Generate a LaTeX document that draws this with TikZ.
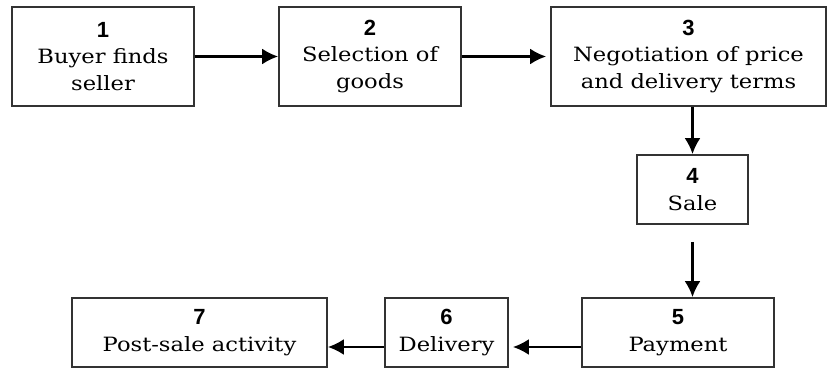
\documentclass[tikz,border=0pt]{standalone}
\usepackage{fontspec}
\setmainfont[FakeStretch=1.15]{DejaVu Serif}
\newfontfamily\numfont{Liberation Sans}
\usetikzlibrary{arrows.meta,positioning,calc}
\definecolor{boxgray}{rgb}{0.2, 0.2, 0.2}
\newcommand{\stepno}[1]{{\numfont\bfseries\fontsize{12.5}{14}\selectfont #1}}
\tikzset{
  stepbox/.style={draw=boxgray, line width=1pt, rectangle, align=center,
    font=\fontsize{11.2}{15}\selectfont, inner sep=2pt},
  flow/.style={line width=1.4pt, ->}
}

\begin{document}
\begin{tikzpicture}[x=0.02cm, y=-0.02cm, >={Latex[length=0.32cm,width=0.32cm]}]
            \useasboundingbox (0,0) rectangle (827,368);
            % top row
            \node[stepbox, minimum width=3.64cm, minimum height=1.98cm] (b1) at (103,56.5) {\stepno{1}\\Buyer finds\\seller};
            \node[stepbox, minimum width=3.64cm, minimum height=1.98cm] (b2) at (370,56.5) {\stepno{2}\\Selection of\\goods};
            \node[stepbox, minimum width=5.5cm, minimum height=1.98cm] (b3) at (688.5,56.5) {\stepno{3}\\Negotiation of price\\and delivery terms};
            
            % middle
            \node[stepbox, minimum width=2.22cm, minimum height=1.38cm] (b4) at (692.5,189.5) {\stepno{4}\\Sale};
            
            % bottom row
            \node[stepbox, minimum width=3.84cm, minimum height=1.38cm] (b5) at (678,332.5) {\stepno{5}\\Payment};
            \node[stepbox, minimum width=2.46cm, minimum height=1.38cm] (b6) at (446.5,332.5) {\stepno{6}\\Delivery};
            \node[stepbox, minimum width=5.1cm, minimum height=1.38cm] (b7) at (199.5,332.5) {\stepno{7}\\Post-sale activity};
            
            % Flow
            \draw[flow] (b1.east) -- (b2.west);
            \draw[flow, shorten >=0.08cm] (b2.east) -- (b3.west);
            \draw[flow] (b3.south -| b4.north) -- (b4.north);
            \draw[flow, shorten <=0.34cm] (b4.south) -- (b4.south |- b5.north);
            \draw[flow, shorten >=0.08cm] ([yshift=-0.29cm]b5.west) -- ([yshift=-0.29cm]b6.east);
            \draw[flow] ([yshift=-0.29cm]b6.west) -- ([yshift=-0.29cm]b7.east);

        \end{tikzpicture}
\end{document}
